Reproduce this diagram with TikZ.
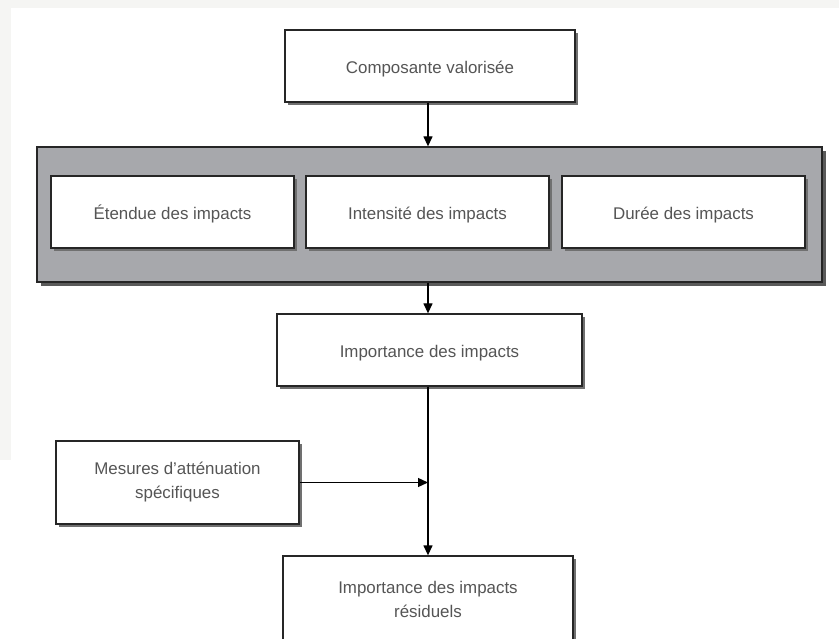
\documentclass[tikz,border=0pt]{standalone}
\usepackage{fontspec}
\setmainfont{Liberation Sans}
\usetikzlibrary{arrows.meta,shadows}
\definecolor{pagegray}{HTML}{F5F5F3}
\definecolor{boxgray}{HTML}{A7A8AC}
\definecolor{textgray}{HTML}{555555}
\definecolor{shadegray}{HTML}{707070}

\begin{document}
\begin{tikzpicture}[x=1pt,y=-1pt,
    box/.style={draw=black!85,line width=1.3pt,fill=white,text=textgray,
        align=center,inner sep=0pt,font=\fontsize{16.9}{24}\selectfont,
        execute at begin node={\rule{0pt}{19pt}},
        drop shadow={shadow xshift=3pt,shadow yshift=-3pt,fill=shadegray,opacity=1}},
    panel/.style={draw=black!85,line width=1.3pt,fill=boxgray,inner sep=0pt,
        drop shadow={shadow xshift=4pt,shadow yshift=-4pt,fill=shadegray!80!black,opacity=1}},
    flow/.style={line width=1.3pt,-{Triangle[length=10pt,width=9pt]}}]
    % page and sheet
    \useasboundingbox (0,0) rectangle (839,639);
    \clip (0,0) rectangle (839,639);
    \fill[pagegray] (0,0) rectangle (839,639);
    \fill[white] (11,8) rectangle (839,639);
    \fill[white] (0,460) rectangle (11,639);

    % top box
    \node[box,minimum width=290pt,minimum height=72pt] (comp) at (430,66) {Composante valoris\'ee};

    % gray panel with the three criteria
    \node[panel,minimum width=785pt,minimum height=135pt] (crit) at (429.5,214.5) {};
    \node[box,minimum width=243pt,minimum height=72pt] (etendue) at (172.5,212) {\'Etendue des impacts};
    \node[box,minimum width=243pt,minimum height=72pt] (intensite) at (427.5,212) {Intensit\'e des impacts};
    \node[box,minimum width=243pt,minimum height=72pt] (duree) at (683.5,212) {Dur\'ee des impacts};

    % importance
    \node[box,minimum width=305pt,minimum height=72pt] (importance) at (429.5,350) {Importance des impacts};
    \node[box,minimum width=243pt,minimum height=83pt] (mesures) at (177.5,482.5) {Mesures d'att\'enuation\\sp\'ecifiques};
    \node[box,minimum width=290pt,minimum height=86pt] (residuel) at (428,599) {Importance des impacts\\r\'esiduels};

    % connectors
    \coordinate (axe) at (428,0);
    \draw[flow] (comp.south -| axe) -- (crit.north -| axe);
    \draw[flow] (crit.south -| axe) -- (importance.north -| axe);
    \draw[flow] (importance.south -| axe) -- (residuel.north -| axe);
    \draw[flow] (mesures.east) -- (mesures.east -| axe);
\end{tikzpicture}
\end{document}
